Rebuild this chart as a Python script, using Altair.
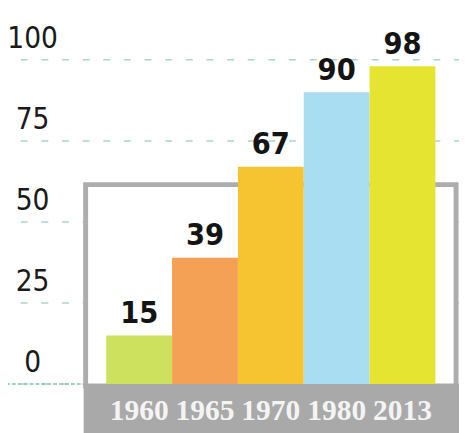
import altair as alt
import pandas as pd

years = ["1960", "1965", "1970", "1980", "2013"]
values = [15, 39, 67, 90, 98]
bar_colors = ["#cde15e", "#f4a055", "#f6c431", "#a9ddf1", "#e5e430"]
tick_values = [0, 25, 50, 75, 100]

df = pd.DataFrame({"year": years, "value": values})
ticks = pd.DataFrame({"t": tick_values})
one = pd.DataFrame({"a": [0]})

NARROW = "Liberation Sans Narrow, DejaVu Sans Condensed, sans-serif"
YEARFONT = "Liberation Serif, serif"

yscale = alt.Scale(domain=[-13.94, 114.85], nice=False, zero=False)
xscale = alt.Scale(range=[100, 435], paddingInner=0, paddingOuter=0)

grid = alt.Chart(ticks).mark_rule(
    color="#a9d6d1", strokeWidth=1.5, strokeDash=[7, 14]
).encode(
    y=alt.Y("t:Q", scale=yscale, axis=None),
    x=alt.value(-8),
    x2=alt.value(459),
)

zero_line = alt.Chart(pd.DataFrame({"t": [0]})).mark_rule(
    color="#7cc4b8", strokeWidth=1.5, strokeDash=[4, 2]
).encode(
    y=alt.Y("t:Q", scale=yscale, axis=None),
    x=alt.value(-8),
    x2=alt.value(80),
)

frame = alt.Chart(one).mark_rect(
    fill="white", stroke="#adadad", strokeWidth=5
).encode(
    x=alt.value(79), x2=alt.value(456),
    y=alt.value(176), y2=alt.value(381),
)

band = alt.Chart(one).mark_rect(fill="#a9a9a9").encode(
    x=alt.value(77), x2=alt.value(470),
    y=alt.value(379), y2=alt.value(430),
)

bars = alt.Chart(df).mark_bar().encode(
    x=alt.X("year:N", scale=xscale, axis=None, sort=None),
    y=alt.Y("value:Q", scale=yscale, axis=None),
    y2=alt.datum(0),
    color=alt.Color("year:N", scale=alt.Scale(domain=years, range=bar_colors), legend=None),
)

bar_labels = alt.Chart(df).mark_text(
    dy=-6, baseline="bottom", align="center", fontSize=31, fontWeight="bold",
    font=NARROW, color="#141414"
).encode(
    x=alt.X("year:N", scale=xscale, axis=None, sort=None),
    y=alt.Y("value:Q", scale=yscale, axis=None),
    text="value:Q",
)

year_labels = alt.Chart(df).mark_text(
    baseline="alphabetic", align="center", fontSize=30, fontWeight="bold",
    font=YEARFONT, color="#f4f4f4"
).encode(
    x=alt.X("year:N", scale=xscale, axis=None, sort=None),
    y=alt.value(416),
    text="year:N",
)

y_labels = alt.Chart(ticks).mark_text(
    dy=-12, baseline="alphabetic", align="center", fontSize=30,
    font=NARROW, color="#1a1a1a"
).encode(
    x=alt.value(25),
    y=alt.Y("t:Q", scale=yscale, axis=None),
    text="t:Q",
)

chart = alt.layer(
    grid, zero_line, frame, band, bars, bar_labels, year_labels, y_labels
).properties(
    width=459, height=425, padding=0, autosize=alt.AutoSizeParams(type="none"),
    background="white",
).configure_view(stroke=None)

chart.save("out.html", embed_options={"renderer": "svg", "actions": False})
